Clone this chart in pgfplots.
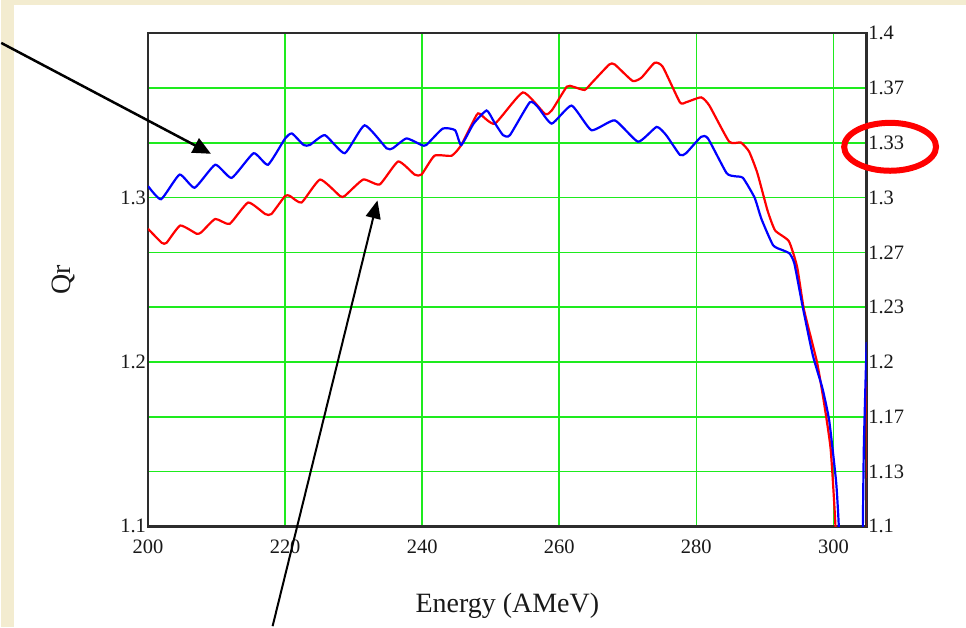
\documentclass[border=0pt]{standalone}
\usepackage{fontspec}
\setmainfont{Liberation Serif}
\usepackage{pgfplots}
\pgfplotsset{compat=1.18}
\usetikzlibrary{arrows.meta}
\definecolor{beige}{RGB}{243,236,208}
\definecolor{gridgreen}{RGB}{30,235,30}
\definecolor{axisgray}{RGB}{45,45,45}
\begin{document}
\begin{tikzpicture}[x=1pt,y=1pt]
\fill[beige] (0,0) rectangle (966,628);
\fill[white] (13,0) rectangle (966,623);
% right-hand labels
\begin{axis}[at={(147pt,101pt)}, anchor=south west, scale only axis,
  width=719.5pt, height=493.7pt,
  xmin=200, xmax=304.85, ymin=1.1, ymax=1.4,
  axis x line=none, axis y line*=right,
  ytick={1.1,1.133333,1.166667,1.2,1.233333,1.266667,1.3,1.333333,1.366667,1.4},
  yticklabels={1.1,1.13,1.17,1.2,1.23,1.27,1.3,1.33,1.37,1.4},
  major tick length=0pt,
  axis line style={axisgray, line width=2.5pt},
  yticklabel style={font=\fontsize{20.5}{22}\selectfont, text=black!90, anchor=west, inner sep=1.5pt},
  /pgf/number format/assume math mode=true]
\end{axis}
\begin{axis}[at={(147pt,101pt)}, anchor=south west, scale only axis,
  width=719.5pt, height=493.7pt,
  xmin=200, xmax=304.85, ymin=1.1, ymax=1.4,
  xtick={200,220,...,300},
  ytick={1.1,1.133333,1.166667,1.2,1.233333,1.266667,1.3,1.333333,1.366667,1.4},
  yticklabels={1.1,,,1.2,,,1.3,,,},
  xtick pos=bottom, ytick pos=left,
  major tick length=0pt,
  grid=major, major grid style={gridgreen, line width=1.6pt},
  axis line style={axisgray, line width=2.5pt},
  tick label style={font=\fontsize{20.5}{22}\selectfont, text=black!90},
  yticklabel style={inner sep=2pt},
  xticklabel style={yshift=-10pt},
  /pgf/number format/assume math mode=true,
  xlabel={Energy (AMeV)}, ylabel={Qr},
  label style={font=\fontsize{28}{30}\selectfont, text=black!90},
  xlabel style={at={(axis description cs:0.5,0)}, anchor=base, yshift=-86pt},
  ylabel style={at={(axis description cs:-0.118,0.5)}, anchor=center},
  clip=true]
\addplot[red, line width=2.2pt, smooth, tension=0.3] coordinates {
(200.0,1.281) (202.0,1.2725) (202.7,1.2725) (204.7,1.283) (207.1,1.278) (207.8,1.279)
(209.8,1.287) (211.9,1.284) (214.6,1.297) (217.1,1.290) (218.0,1.290) (220.0,1.301)
(220.7,1.301) (222.4,1.297) (225.1,1.311) (228.0,1.301) (228.7,1.301) (231.4,1.311)
(233.8,1.308) (236.5,1.322) (238.9,1.314) (239.9,1.314) (241.8,1.3255) (244.3,1.3255)
(245.7,1.332) (247.9,1.350) (248.4,1.351) (250.6,1.345) (254.7,1.364) (257.9,1.351)
(258.9,1.353) (261.1,1.3675) (262.0,1.3675) (263.7,1.3655) (264.9,1.3705) (267.3,1.381)
(268.1,1.381) (270.7,1.371) (272.0,1.373) (273.9,1.382) (275.1,1.3796) (277.6,1.358)
(278.5,1.358) (280.7,1.361) (281.9,1.356) (284.8,1.334) (286.5,1.3335) (287.7,1.328)
(288.9,1.315) (290.4,1.292) (291.5,1.280) (293.5,1.2735) (294.7,1.258) (295.7,1.232)
(297.6,1.200) (298.6,1.176) (299.6,1.147) (300.3,1.100) (300.5,1.05) (304.8,1.05)
(304.85,1.188)
};
\addplot[blue, line width=2.2pt, smooth, tension=0.3] coordinates {
(200.0,1.307) (201.9,1.299) (204.6,1.314) (206.8,1.306) (209.8,1.320) (212.2,1.312)
(215.4,1.327) (217.5,1.320) (220.0,1.336) (221.0,1.339) (222.7,1.332) (223.6,1.332)
(225.8,1.338) (228.7,1.327) (231.6,1.344) (234.8,1.330) (235.7,1.330) (237.7,1.336)
(239.9,1.332) (240.6,1.332) (243.0,1.342) (244.8,1.341) (245.7,1.332) (247.5,1.345)
(249.4,1.353) (250.5,1.346) (251.8,1.338) (252.8,1.338) (255.7,1.358) (256.9,1.355)
(258.9,1.345) (261.8,1.356) (264.7,1.341) (268.1,1.347) (271.5,1.334) (274.2,1.343)
(275.6,1.338) (277.6,1.326) (278.5,1.327) (280.7,1.337) (281.7,1.336) (284.4,1.315)
(285.6,1.313) (286.8,1.312) (288.5,1.300) (289.5,1.287) (291.2,1.271) (292.6,1.268)
(293.6,1.266) (294.3,1.260) (295.5,1.234) (297.0,1.204) (298.4,1.184) (299.4,1.164)
(300.4,1.127) (300.8,1.099) (301.2,1.05) (304.2,1.05) (304.3,1.10) (304.45,1.15)
(304.85,1.212)
};
\end{axis}
% annotations
\draw[line width=2.5pt, -{Triangle[length=18pt,width=16pt]}] (0,585) -- (210,474);
\draw[line width=2pt, -{Triangle[length=18pt,width=15pt]}] (271.7,1) -- (376.7,427.3);
\draw[red, line width=6pt] (890,481) ellipse [x radius=46, y radius=24];
\end{tikzpicture}
\end{document}
